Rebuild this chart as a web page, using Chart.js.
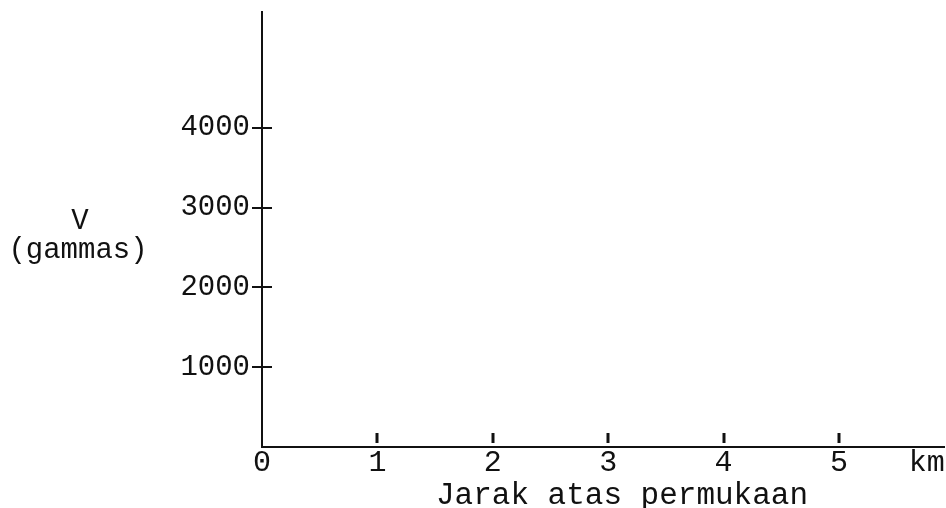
<!DOCTYPE html>
<html>
<head>
<meta charset="utf-8">
<script src="https://cdn.jsdelivr.net/npm/chart.js@4/dist/chart.umd.min.js"></script>
<style>
  html, body { margin: 0; padding: 0; background: #fff; }
  #wrap { width: 946px; height: 508px; position: relative; }
</style>
</head>
<body>
<div id="wrap"><canvas id="c" width="946" height="508"></canvas></div>
<script>
// ---- data ----
const xTickValues = [0, 1, 2, 3, 4, 5];
const xMarkValues = [1, 2, 3, 4, 5];
const yTickValues = [1000, 2000, 3000, 4000];
const xUnitLabel = 'km';
const xUnitPos = 5.76;
const xTitle = 'Jarak atas permukaan';
const yTitleLines = ['V', '(gammas)'];
const seriesV = []; // the chart shows empty axes only
const xRange = [0, 5.91];
const yRange = [0, 5450];

const FONT = 'Liberation Mono';
const INK = '#111';

const axisMarks = {
  id: 'axisMarks',
  afterDraw(chart) {
    const ctx = chart.ctx;
    const xs = chart.scales.x, ys = chart.scales.y;
    const x0 = xs.getPixelForValue(0);
    const y0 = ys.getPixelForValue(0);
    ctx.save();
    ctx.strokeStyle = INK;
    // crossing ticks on y axis
    ctx.lineWidth = 2;
    yTickValues.forEach(v => {
      const py = Math.round(ys.getPixelForValue(v));
      ctx.beginPath();
      ctx.moveTo(x0 - 10, py);
      ctx.lineTo(x0 + 10, py);
      ctx.stroke();
    });
    // short marks above x axis
    ctx.lineWidth = 3;
    xMarkValues.forEach(v => {
      const px = Math.round(xs.getPixelForValue(v));
      ctx.beginPath();
      ctx.moveTo(px, y0 - 14);
      ctx.lineTo(px, y0 - 4);
      ctx.stroke();
    });
    // titles
    ctx.fillStyle = INK;
    ctx.textAlign = 'center';
    ctx.textBaseline = 'middle';
    ctx.font = '29px "' + FONT + '"';
    ctx.fillText(yTitleLines[0], 80, 221);
    ctx.fillText(yTitleLines[1], 78, 250);
    ctx.font = '31px "' + FONT + '"';
    ctx.fillText(xTitle, 622, 496);
    ctx.restore();
  }
};

new Chart(document.getElementById('c'), {
  type: 'scatter',
  data: { datasets: [{ data: seriesV, showLine: false }] },
  options: {
    responsive: false,
    animation: false,
    events: [],
    layout: { padding: { top: 12, right: 2, left: 0, bottom: 0 } },
    plugins: { legend: { display: false }, tooltip: { enabled: false } },
    scales: {
      x: {
        type: 'linear',
        min: xRange[0], max: xRange[1],
        afterBuildTicks: s => { s.ticks = xTickValues.map(v => ({ value: v })).concat([{ value: xUnitPos }]); },
        afterFit: s => { s.height = 61; s.paddingLeft = 0; s.paddingRight = 0; },
        grid: { display: false, drawTicks: false },
        border: { display: true, color: INK, width: 2 },
        ticks: {
          padding: -2,
          color: INK,
          maxRotation: 0,
          autoSkip: false,
          font: { family: FONT, size: 30 },
          callback: v => (v === xUnitPos ? xUnitLabel : String(v))
        }
      },
      y: {
        type: 'linear',
        min: yRange[0], max: yRange[1],
        afterBuildTicks: s => { s.ticks = yTickValues.map(v => ({ value: v })); },
        afterFit: s => { s.width = 262; s.paddingTop = 0; s.paddingBottom = 0; },
        grid: { display: false, drawTicks: false },
        border: { display: true, color: INK, width: 2 },
        ticks: {
          padding: 12,
          color: INK,
          autoSkip: false,
          font: { family: FONT, size: 29 },
          callback: v => String(v)
        }
      }
    }
  },
  plugins: [axisMarks]
});
</script>
</body>
</html>
